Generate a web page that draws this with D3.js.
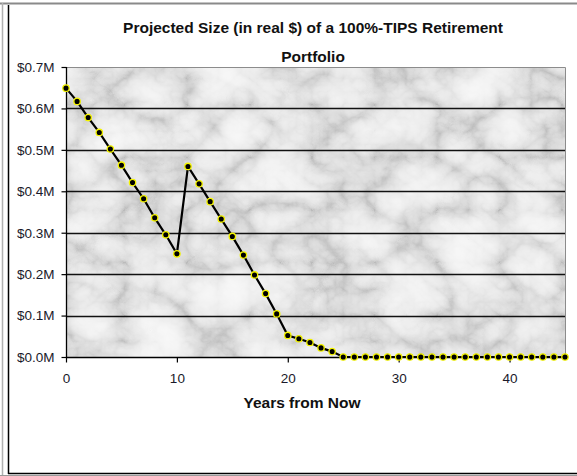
<html>
<head>
    <meta charset="utf-8">
    <script src="https://d3js.org/d3.v7.min.js"></script>
    <title>TIPS Portfolio</title>
    <style>
        body { margin: 0; background: white; }
        text { font-family: "Liberation Sans", Arial, sans-serif; }
    </style>
</head>
<body>
    <svg id="chart" width="577" height="476"></svg>
    <script>
        // data (portfolio size in $M, real dollars)
        const years = [0, 1, 2, 3, 4, 5, 6, 7, 8, 9, 10, 11, 12, 13, 14, 15, 16, 17, 18, 19, 20, 21, 22,
                       23, 24, 25, 26, 27, 28, 29, 30, 31, 32, 33, 34, 35, 36, 37, 38, 39, 40, 41, 42, 43, 44, 45];
        const portfolio = [0.649, 0.617, 0.578, 0.542, 0.502, 0.463, 0.421, 0.382, 0.336, 0.295, 0.249,
                           0.460, 0.418, 0.375, 0.333, 0.291, 0.246, 0.198, 0.153, 0.104, 0.052,
                           0.044, 0.035, 0.022, 0.013, 0, 0, 0, 0, 0, 0, 0, 0, 0, 0, 0, 0, 0, 0, 0, 0, 0, 0, 0, 0, 0];
        const yTicks = [0, 0.1, 0.2, 0.3, 0.4, 0.5, 0.6, 0.7];
        const xTicks = [0, 10, 20, 30, 40];
        const titleLines = ["Projected Size (in real $) of a 100%-TIPS Retirement", "Portfolio"];
        const xTitle = "Years from Now";

        const svg = d3.select("#chart");
        const plotL = 66, plotR = 565, plotT = 67, plotB = 357;

        const x = d3.scaleLinear().domain([0, 45]).range([plotL, plotR]);
        const y = d3.scaleLinear().domain([0, 0.7]).range([plotB, plotT]);

        // marble texture for the plot area
        const defs = svg.append("defs");
        const filt = defs.append("filter").attr("id", "marble")
                         .attr("x", 0).attr("y", 0).attr("width", 1).attr("height", 1);
        filt.append("feTurbulence")
            .attr("type", "turbulence")
            .attr("baseFrequency", "0.016 0.019")
            .attr("numOctaves", 5)
            .attr("seed", 3);
        filt.append("feColorMatrix")
            .attr("type", "matrix")
            .attr("values", "1 0 0 0 0  1 0 0 0 0  1 0 0 0 0  0 0 0 0 1");
        const ct = filt.append("feComponentTransfer");
        ["feFuncR", "feFuncG", "feFuncB"].forEach(f => {
            ct.append(f).attr("type", "table").attr("tableValues", "0.5 0.7 0.82 0.89 0.93 0.95");
        });

        // outer frame
        svg.append("line").attr("x1", 0).attr("x2", 577).attr("y1", 3.5).attr("y2", 3.5)
           .attr("stroke", "#8a8a8a").attr("stroke-width", 2);
        svg.append("line").attr("x1", 2.5).attr("x2", 2.5).attr("y1", 3).attr("y2", 476)
           .attr("stroke", "#b0b0b0").attr("stroke-width", 1.5);
        svg.append("line").attr("x1", 8.5).attr("x2", 8.5).attr("y1", 5).attr("y2", 474)
           .attr("stroke", "black").attr("stroke-width", 1.5);
        svg.append("line").attr("x1", 8).attr("x2", 577).attr("y1", 473.5).attr("y2", 473.5)
           .attr("stroke", "black").attr("stroke-width", 1.5);
        svg.append("line").attr("x1", 0).attr("x2", 577).attr("y1", 475.5).attr("y2", 475.5)
           .attr("stroke", "#9a9a9a").attr("stroke-width", 1);

        // plot background
        svg.append("rect")
           .attr("x", plotL).attr("y", plotT)
           .attr("width", plotR - plotL).attr("height", plotB - plotT)
           .attr("fill", "#e0e0e0")
           .attr("filter", "url(#marble)");

        // gridlines
        svg.append("g").selectAll("line.grid")
           .data(yTicks.filter(d => d > 0 && d < 0.7))
           .join("line")
           .attr("class", "grid")
           .attr("x1", plotL).attr("x2", plotR)
           .attr("y1", d => Math.round(y(d)) + 0.5).attr("y2", d => Math.round(y(d)) + 0.5)
           .attr("stroke", "#111").attr("stroke-width", 1.3);

        // gray border on top and right
        svg.append("path")
           .attr("d", `M${plotL},${plotT + 0.5}H${plotR + 0.5}V${plotB}`)
           .attr("fill", "none").attr("stroke", "#8c8c8c").attr("stroke-width", 1);

        // axes
        const yAxis = svg.append("g")
           .attr("transform", `translate(${plotL + 0.5},0)`)
           .call(d3.axisLeft(y).tickValues(yTicks).tickSize(5).tickPadding(7)
                   .tickFormat(d => `$${d.toFixed(1)}M`));
        const xAxis = svg.append("g")
           .attr("transform", `translate(0,${plotB + 0.5})`)
           .call(d3.axisBottom(x).tickValues(xTicks).tickSize(5).tickPadding(11));
        [yAxis, xAxis].forEach(a => {
            a.select(".domain").attr("stroke", "black").attr("stroke-width", 1.3);
            a.selectAll(".tick line").attr("stroke", "black").attr("stroke-width", 1.2);
            a.selectAll(".tick text").attr("fill", "#1a1a2a")
             .style("font-family", "'Liberation Sans', Arial, sans-serif")
             .style("font-size", "13.5px");
        });
        xAxis.select(".domain").attr("d", `M${plotL},0H${plotR}`);
        yAxis.select(".domain").attr("d", `M0,${plotT}V${plotB}`);

        // the series
        const pts = years.map((yr, i) => ({yr: yr, v: portfolio[i]}));
        const line = d3.line().x(d => x(d.yr)).y(d => y(d.v));
        svg.append("path")
           .datum(pts)
           .attr("d", line)
           .attr("fill", "none")
           .attr("stroke", "black")
           .attr("stroke-width", 2.2);
        svg.append("g").selectAll("circle")
           .data(pts)
           .join("circle")
           .attr("cx", d => x(d.yr))
           .attr("cy", d => y(d.v))
           .attr("r", 3.2)
           .attr("fill", "black")
           .attr("stroke", "#f4f400")
           .attr("stroke-width", 1.3);

        // titles
        svg.append("g").selectAll("text")
           .data(titleLines)
           .join("text")
           .attr("x", 313)
           .attr("y", (d, i) => 33 + i * 29)
           .attr("text-anchor", "middle")
           .attr("font-weight", "bold")
           .attr("font-size", "15.5px")
           .attr("fill", "#111")
           .text(d => d);
        svg.append("text")
           .attr("x", 302).attr("y", 408)
           .attr("text-anchor", "middle")
           .attr("font-weight", "bold")
           .attr("font-size", "15.5px")
           .attr("fill", "#111")
           .text(xTitle);
    </script>
</body>
</html>
